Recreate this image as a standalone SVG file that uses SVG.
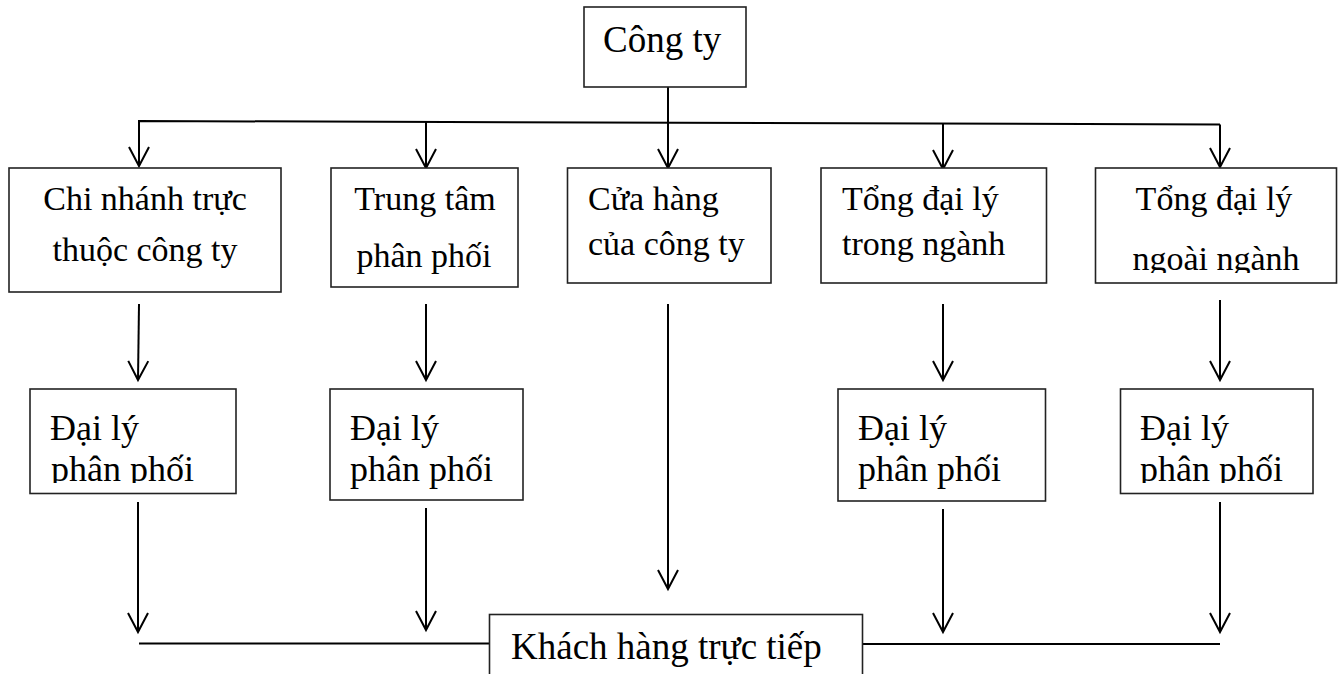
<svg xmlns="http://www.w3.org/2000/svg" width="1338" height="674" viewBox="0 0 1338 674">
<style>
.box{fill:#fff;stroke:#222;stroke-width:1.6}
.t{font-family:"Liberation Serif","Times New Roman",serif;fill:#000}
.s34{font-size:34px}
.s36{font-size:36px}
.s37{font-size:37px}
.c{stroke:#000;stroke-width:2;fill:none}
.a{marker-end:url(#arr)}
</style>
<defs>
<marker id="arr" markerUnits="userSpaceOnUse" viewBox="-21 -12 23 24" refX="0" refY="0" markerWidth="23" markerHeight="24" orient="auto" overflow="visible">
<path d="M-19,-10 L0,0 L-19,10" fill="none" stroke="#000" stroke-width="2"/>
</marker>
<clipPath id="clipN5"><rect x="1095" y="168" width="243" height="105"/></clipPath>
<clipPath id="clipD1"><rect x="30" y="389" width="206" height="94"/></clipPath>
<clipPath id="clipD4"><rect x="1120" y="389" width="193" height="94"/></clipPath>
</defs>
<rect width="1338" height="674" fill="#fff"/>

<g id="connectors">
<line class="c" x1="668" y1="87" x2="668" y2="168" marker-end="url(#arr)"/>
<polyline class="c" points="139,166 139,121 1220,124.5"/>
<line class="c" x1="139" y1="130" x2="139" y2="166" marker-end="url(#arr)"/>
<line class="c" x1="426" y1="122" x2="426" y2="168" marker-end="url(#arr)"/>
<line class="c" x1="943" y1="124" x2="943" y2="169" marker-end="url(#arr)"/>
<line class="c" x1="1220" y1="124.5" x2="1220" y2="167" marker-end="url(#arr)"/>

<line class="c" x1="139" y1="304" x2="138" y2="380" marker-end="url(#arr)"/>
<line class="c" x1="426" y1="304" x2="426" y2="380" marker-end="url(#arr)"/>
<line class="c" x1="668" y1="304" x2="668" y2="589" marker-end="url(#arr)"/>
<line class="c" x1="943" y1="304" x2="943" y2="380" marker-end="url(#arr)"/>
<line class="c" x1="1220" y1="300" x2="1220" y2="380" marker-end="url(#arr)"/>

<line class="c" x1="138" y1="502" x2="138" y2="632" marker-end="url(#arr)"/>
<line class="c" x1="426" y1="508" x2="426" y2="630" marker-end="url(#arr)"/>
<line class="c" x1="943" y1="509" x2="943" y2="632" marker-end="url(#arr)"/>
<line class="c" x1="1220" y1="502" x2="1220" y2="632" marker-end="url(#arr)"/>

<line class="c" x1="139" y1="643.5" x2="489" y2="643.5"/>
<line class="c" x1="862" y1="644" x2="1220" y2="644"/>
</g>

<g id="cong-ty">
<rect class="box" x="584" y="7" width="162" height="80"/>
<text class="t s37" x="603" y="52">Công ty</text>
</g>

<g id="chi-nhanh">
<rect class="box" x="9" y="168" width="272" height="124"/>
<text class="t s34" x="145" y="210" text-anchor="middle">Chi nhánh trực</text>
<text class="t s34" x="145" y="261" text-anchor="middle">thuộc công ty</text>
</g>

<g id="trung-tam">
<rect class="box" x="331" y="168" width="187" height="119"/>
<text class="t s34" x="425" y="210" text-anchor="middle">Trung tâm</text>
<text class="t s34" x="424" y="267" text-anchor="middle">phân phối</text>
</g>

<g id="cua-hang">
<rect class="box" x="567.5" y="168" width="203.5" height="115"/>
<text class="t s34" x="588" y="210">Cửa hàng</text>
<text class="t s34" x="588" y="255">của công ty</text>
</g>

<g id="tong-dai-ly-trong">
<rect class="box" x="821" y="168" width="225.5" height="115"/>
<text class="t s34" x="842" y="210">Tổng đại lý</text>
<text class="t s34" x="842" y="255">trong ngành</text>
</g>

<g id="tong-dai-ly-ngoai">
<rect class="box" x="1095.5" y="168" width="241" height="115"/>
<text class="t s34" x="1214" y="210" text-anchor="middle">Tổng đại lý</text>
<text class="t s34" x="1216" y="270" text-anchor="middle" clip-path="url(#clipN5)">ngoài ngành</text>
</g>

<g id="dai-ly-1">
<rect class="box" x="30" y="389" width="206" height="104.5"/>
<text class="t s36" x="50" y="440">Đại lý</text>
<text class="t s36" x="51" y="481" clip-path="url(#clipD1)">phân phối</text>
</g>

<g id="dai-ly-2">
<rect class="box" x="330" y="389" width="193" height="111"/>
<text class="t s36" x="350" y="440">Đại lý</text>
<text class="t s36" x="350" y="481">phân phối</text>
</g>

<g id="dai-ly-3">
<rect class="box" x="838" y="389" width="207.5" height="112"/>
<text class="t s36" x="858" y="440">Đại lý</text>
<text class="t s36" x="858" y="481">phân phối</text>
</g>

<g id="dai-ly-4">
<rect class="box" x="1120.5" y="389" width="192.5" height="104.5"/>
<text class="t s36" x="1140" y="440">Đại lý</text>
<text class="t s36" x="1140" y="481" clip-path="url(#clipD4)">phân phối</text>
</g>

<g id="khach-hang">
<rect class="box" x="489.5" y="614.5" width="373" height="80"/>
<text class="t s37" x="511" y="659">Khách hàng trực tiếp</text>
</g>
</svg>
